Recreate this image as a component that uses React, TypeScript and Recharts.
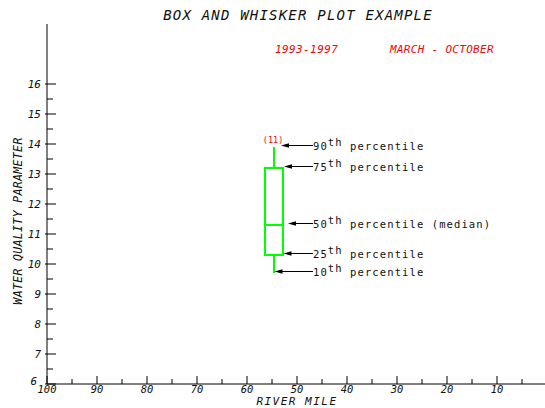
import {
  ComposedChart,
  Customized,
  ReferenceArea,
  ReferenceDot,
  ReferenceLine,
  XAxis,
  YAxis,
} from 'recharts'

// river mile axis (runs downstream from 100 to 0)
const mileTicks = [100, 95, 90, 85, 80, 75, 70, 65, 60, 55, 50, 45, 40, 35, 30, 25, 20, 15, 10, 5]
const mileLabels = [100, 90, 80, 70, 60, 50, 40, 30, 20, 10]

// water quality axis
const paramTicks = [6, 6.5, 7, 7.5, 8, 8.5, 9, 9.5, 10, 10.5, 11, 11.5, 12, 12.5, 13, 13.5, 14, 14.5, 15, 15.5, 16]
const paramLabels = [6, 7, 8, 9, 10, 11, 12, 13, 14, 15, 16]

// one station, its percentiles and sample count
const stationMile = 54.6
const percentileNames = ['90', '75', '50', '25', '10']
const percentileValues = [13.9, 13.2, 11.3, 10.3, 9.7]
const percentileNotes = ['', '', ' (median)', '', '']
const sampleCount = 11

const FONT = '"DejaVu Sans Mono", monospace'
const GREEN = '#00ff00'
const BOX_HALF = 1.8 // miles
const ARROW_TAIL = 46.8 // mile where the labels start
const arrowTipGap = [1.4, 2.0, 2.8, 1.9, 0.1] // miles from the station line

const [p90, p75, p50, p25, p10] = percentileValues

function MileTick(props: any) {
  const { x, y, payload, top } = props
  const v = payload.value
  const major = v % 10 === 0
  const len = major ? (top ? 7 : 8) : 5
  return (
    <g>
      <line x1={x} x2={x} y1={y} y2={top ? y + len : y - len} stroke="#000" />
      {!top && mileLabels.includes(v) && (
        <text x={x} y={y + 8.5} textAnchor="middle" fontFamily={FONT} fontSize={10.5} fontStyle="italic" fill="#111">
          {v}
        </text>
      )}
    </g>
  )
}

function ParamTick(props: any) {
  const { x, y, payload } = props
  const v = payload.value
  const major = Number.isInteger(v)
  // the lowest label is nudged left so it clears the "100" below it
  const lowest = v === 6
  return (
    <g>
      <line x1={major ? x - 2 : x} x2={x + (major ? 9 : 6)} y1={y} y2={y} stroke="#000" />
      {paramLabels.includes(v) && (
        <text
          x={lowest ? x - 10 : x - 6}
          y={lowest ? y + 1 : y + 4}
          textAnchor="end"
          fontFamily={FONT}
          fontSize={11}
          fontStyle="italic"
          fill="#111"
        >
          {v}
        </text>
      )}
    </g>
  )
}

function arrowShape(name: string, note: string) {
  return (p: any) => {
    const { x1, y1, x2 } = p
    const y = y1 - 1.5
    return (
      <g>
        <line x1={x2 + 6} x2={x1} y1={y} y2={y} stroke="#000" strokeWidth={1} />
        <polygon points={`${x2},${y} ${x2 + 8},${y - 2.2} ${x2 + 8},${y + 2.2}`} fill="#000" />
        <text x={x1} y={y + 4} fontFamily={FONT} fontSize={10.5} letterSpacing={1.1} fill="#111">
          <tspan>{name}</tspan>
          <tspan dy={-4}>th</tspan>
          <tspan dy={4}>{' percentile' + note}</tspan>
        </text>
      </g>
    )
  }
}

function Titles() {
  return (
    <g fontFamily={FONT}>
      <text x={298} y={20} textAnchor="middle" fontSize={14} letterSpacing={1.2} fontStyle="italic" fill="#111">
        BOX AND WHISKER PLOT EXAMPLE
      </text>
      <text x={275} y={53} fontSize={11} letterSpacing={0.4} fontStyle="italic" fill="#ff0000">
        1993-1997
      </text>
      <text x={390} y={53} fontSize={11} letterSpacing={0.3} fontStyle="italic" fill="#ff0000">
        MARCH - OCTOBER
      </text>
      <text
        x={22}
        y={221}
        transform="rotate(-90 22 221)"
        textAnchor="middle"
        fontSize={11.5}
        letterSpacing={0.35}
        fontStyle="italic"
        fill="#111"
      >
        WATER QUALITY PARAMETER
      </text>
      <text x={297} y={405.3} textAnchor="middle" fontSize={11} letterSpacing={1.5} fontStyle="italic" fill="#111">
        RIVER MILE
      </text>
    </g>
  )
}

export default function App() {
  return (
    <div style={{ position: 'absolute', left: 0, top: 0, width: 545, height: 408, overflow: 'hidden', background: '#fff' }}>
      <ComposedChart width={550} height={408} margin={{ top: 24, right: 3, bottom: 4, left: 7 }}>
        <XAxis
          type="number"
          dataKey="mile"
          domain={[0, 100]}
          reversed
          ticks={mileTicks}
          interval={0}
          tickSize={0}
          tickMargin={0}
          height={20}
          allowDataOverflow
          axisLine={{ stroke: '#000' }}
          tick={<MileTick />}
        />
        <XAxis
          xAxisId="top"
          orientation="top"
          type="number"
          domain={[0, 100]}
          reversed
          ticks={mileTicks}
          interval={0}
          tickSize={0}
          tickMargin={0}
          height={0}
          allowDataOverflow
          axisLine={{ stroke: '#000' }}
          tick={<MileTick top />}
        />
        <YAxis
          type="number"
          domain={[6, 18]}
          ticks={paramTicks}
          interval={0}
          tickSize={0}
          tickMargin={0}
          width={40}
          allowDataOverflow
          axisLine={{ stroke: '#000' }}
          tick={<ParamTick />}
        />
        <Customized component={Titles} />

        <ReferenceArea
          x1={stationMile + BOX_HALF}
          x2={stationMile - BOX_HALF}
          y1={p25}
          y2={p75}
          fill="none"
          fillOpacity={0}
          stroke={GREEN}
          strokeWidth={2}
        />
        <ReferenceLine
          segment={[
            { x: stationMile + BOX_HALF, y: p50 },
            { x: stationMile - BOX_HALF, y: p50 },
          ]}
          stroke={GREEN}
          strokeWidth={2}
        />
        <ReferenceLine
          segment={[
            { x: stationMile, y: p75 },
            { x: stationMile, y: p90 },
          ]}
          stroke={GREEN}
          strokeWidth={2}
        />
        <ReferenceLine
          segment={[
            { x: stationMile, y: p25 },
            { x: stationMile, y: p10 },
          ]}
          stroke={GREEN}
          strokeWidth={2}
        />
        <ReferenceDot
          x={stationMile}
          y={p90}
          r={0}
          shape={(p: any) => (
            <text x={p.cx - 1} y={p.cy - 4} textAnchor="middle" fontFamily={FONT} fontSize={8.5} fill="#ff0000">
              ({sampleCount})
            </text>
          )}
        />
        {percentileNames.map((name, i) => (
          <ReferenceLine
            key={name}
            segment={[
              { x: ARROW_TAIL, y: percentileValues[i] },
              { x: stationMile - arrowTipGap[i], y: percentileValues[i] },
            ]}
            shape={arrowShape(name, percentileNotes[i])}
          />
        ))}
      </ComposedChart>
    </div>
  )
}
